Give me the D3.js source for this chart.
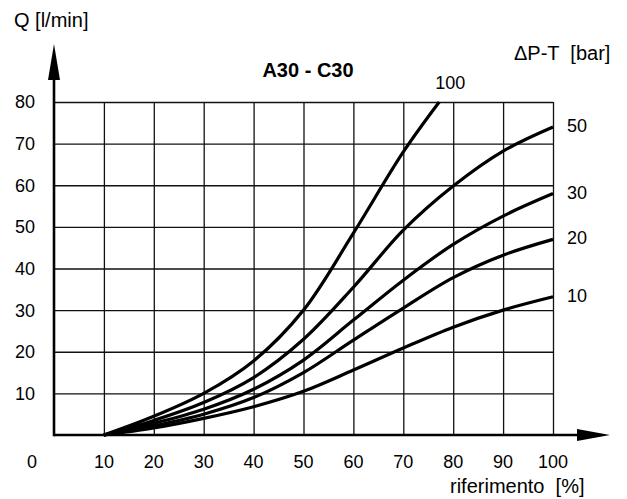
<!DOCTYPE html>
<html>
<head>
<meta charset="utf-8">
<script src="https://cdn.jsdelivr.net/npm/d3@7"></script>
<style>
  body { margin: 0; background: #fff; }
  text { font-family: "Liberation Sans", Arial, sans-serif; fill: #000; }
</style>
</head>
<body>
<svg id="chart" width="627" height="499"></svg>
<script>
// pressure drop curves, Q [l/min] vs riferimento [%]
var pressures = ["100", "50", "30", "20", "10"];
var curve100 = [[10, 0], [20, 4.5], [30, 10], [40, 17.8], [50, 30], [60, 48.5], [70, 68], [77.2, 80]];
var curve50 = [[10, 0], [20, 3.5], [30, 7.8], [40, 13.8], [50, 23], [60, 35.5], [70, 49.2], [80, 59.8], [90, 68.2], [100, 74]];
var curve30 = [[10, 0], [20, 2.8], [30, 6.2], [40, 11], [50, 18], [60, 27.6], [70, 37.2], [80, 45.8], [90, 52.6], [100, 58]];
var curve20 = [[10, 0], [20, 2.2], [30, 5], [40, 9], [50, 15], [60, 22.8], [70, 30.5], [80, 37.8], [90, 43.2], [100, 47]];
var curve10 = [[10, 0], [20, 1.7], [30, 4], [40, 6.8], [50, 10.5], [60, 15.6], [70, 20.9], [80, 25.9], [90, 30], [100, 33.2]];
var curves = [curve100, curve50, curve30, curve20, curve10];

var xTicks = [10, 20, 30, 40, 50, 60, 70, 80, 90, 100];
var yTicks = [10, 20, 30, 40, 50, 60, 70, 80];

var svg = d3.select("#chart");

var x = d3.scaleLinear().domain([0, 100]).range([54, 553]);
var y = d3.scaleLinear().domain([0, 80]).range([435, 102]);

// grid
var xGrid = d3.axisBottom(x)
    .tickValues(xTicks)
    .tickSize(-(y(0) - y(80)))
    .tickFormat("");
var yGrid = d3.axisLeft(y)
    .tickValues(yTicks)
    .tickSize(-(x(100) - x(0)))
    .tickFormat("");

svg.append("g")
    .attr("transform", "translate(0," + y(0) + ")")
    .call(xGrid)
    .call(function(g) { g.select(".domain").remove(); })
    .selectAll("line")
    .attr("stroke", "#111")
    .attr("stroke-width", 1.3);

svg.append("g")
    .attr("transform", "translate(" + x(0) + ",0)")
    .call(yGrid)
    .call(function(g) { g.select(".domain").remove(); })
    .selectAll("line")
    .attr("stroke", "#111")
    .attr("stroke-width", 1.3);

// tick labels
svg.append("g").selectAll("text")
    .data(yTicks)
    .enter().append("text")
    .attr("x", 35)
    .attr("y", function(d) { return y(d); })
    .attr("dy", "0.36em")
    .attr("text-anchor", "end")
    .attr("font-size", 18)
    .text(function(d) { return d; });

svg.append("g").selectAll("text")
    .data(xTicks)
    .enter().append("text")
    .attr("x", function(d) { return x(d); })
    .attr("y", 468)
    .attr("text-anchor", "middle")
    .attr("font-size", 18)
    .text(function(d) { return d; });

svg.append("text")
    .attr("x", 32)
    .attr("y", 468)
    .attr("text-anchor", "middle")
    .attr("font-size", 18)
    .text("0");

// axes with arrows
svg.append("line")
    .attr("x1", x(0)).attr("y1", y(0))
    .attr("x2", 580).attr("y2", y(0))
    .attr("stroke", "#000").attr("stroke-width", 2.6);
svg.append("path")
    .attr("d", "M577," + (y(0) - 6) + "L610," + y(0) + "L577," + (y(0) + 6) + "Z")
    .attr("fill", "#000");

svg.append("line")
    .attr("x1", x(0)).attr("y1", y(0) + 1.3)
    .attr("x2", x(0)).attr("y2", 78)
    .attr("stroke", "#000").attr("stroke-width", 2.6);
svg.append("path")
    .attr("d", "M" + (x(0) - 6) + ",80L" + x(0) + ",44L" + (x(0) + 6) + ",80Z")
    .attr("fill", "#000");

// curves
var line = d3.line()
    .x(function(d) { return x(d[0]); })
    .y(function(d) { return y(d[1]); })
    .curve(d3.curveCatmullRom.alpha(0.5));

svg.append("g").selectAll("path")
    .data(curves)
    .enter().append("path")
    .attr("d", line)
    .attr("fill", "none")
    .attr("stroke", "#000")
    .attr("stroke-width", 3.2);

// curve labels
svg.append("g").selectAll("text")
    .data(curves)
    .enter().append("text")
    .attr("x", function(d) {
        var e = d[d.length - 1];
        return e[0] < 100 ? x(e[0]) + 11 : x(e[0]) + 14;
    })
    .attr("y", function(d) {
        var e = d[d.length - 1];
        return e[1] >= 80 ? y(e[1]) - 13 : y(e[1]) + 5;
    })
    .attr("text-anchor", function(d) { return d[d.length - 1][0] < 100 ? "middle" : "start"; })
    .attr("font-size", 18)
    .text(function(d, i) { return pressures[i]; });

// titles
svg.append("text")
    .attr("x", 14).attr("y", 27)
    .attr("font-size", 20)
    .text("Q [l/min]");

svg.append("text")
    .attr("x", 308).attr("y", 77)
    .attr("text-anchor", "middle")
    .attr("font-size", 20)
    .attr("font-weight", "bold")
    .text("A30 - C30");

svg.append("text")
    .attr("x", 514).attr("y", 60)
    .attr("font-size", 20)
    .style("white-space", "pre")
    .text("\u0394P-T  [bar]");

svg.append("text")
    .attr("x", 450).attr("y", 493)
    .attr("font-size", 20)
    .style("white-space", "pre")
    .text("riferimento  [%]");
</script>
</body>
</html>
